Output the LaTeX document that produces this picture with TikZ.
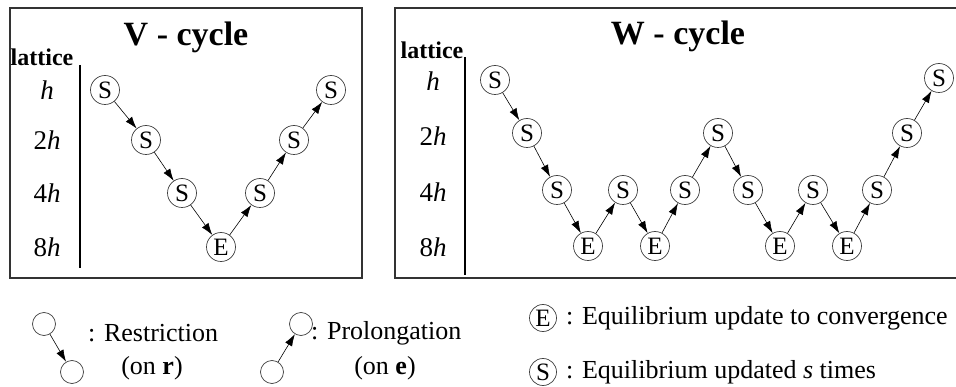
\documentclass[tikz,border=0pt]{standalone}
\usepackage{fontspec}
\setmainfont{Liberation Serif}
\usetikzlibrary{arrows.meta}
\begin{document}
\begin{tikzpicture}[x=1pt,y=-1pt,
  st/.style={circle,draw=black!75,line width=0.7pt,minimum size=29pt,inner sep=0pt,font=\fontsize{25}{25}\selectfont},
  lgc/.style={circle,draw=black!75,line width=0.7pt,minimum size=27pt,inner sep=0pt,font=\fontsize{25}{25}\selectfont},
  emc/.style={circle,draw=black!75,line width=0.7pt,minimum size=23pt,inner sep=0pt},
  ar/.style={-{Latex[length=12pt,width=8pt]},line width=0.6pt},
  panel/.style={draw=black!80,line width=1.2pt},
  axis/.style={line width=1.8pt},
  lvl/.style={font=\fontsize{27}{27}\selectfont},
  ttl/.style={font=\fontsize{34}{34}\selectfont\bfseries},
  lat/.style={font=\fontsize{24}{24}\selectfont\bfseries},
  txt/.style={font=\fontsize{26}{26}\selectfont,anchor=west,inner sep=0pt},
  ctxt/.style={font=\fontsize{26}{26}\selectfont,inner sep=0pt}]
\useasboundingbox (0,0) rectangle (956,387);
\clip (0,0) rectangle (956,387);
\fill[white] (0,0) rectangle (956,387);

% ---------- V-cycle panel ----------
\draw[panel] (10,8) rectangle (362,278);
\node[ttl] (vt) at (186,37) {V - cycle};
\node[lat] (vlat) at (42,57) {lattice};
\coordinate (va) at (80,65);
\coordinate (vb) at (80,268);
\draw[axis] (va) -- (vb);
\node[lvl] (vl1) at (47,90) {\itshape h};
\node[lvl] (vl2) at (47,140) {2\itshape h};
\node[lvl] (vl3) at (47,193) {4\itshape h};
\node[lvl] (vl4) at (47,247) {8\itshape h};

\node[st] (v1) at (105,90) {S};
\node[st] (v2) at (146,140) {S};
\node[st] (v3) at (182,193) {S};
\node[st] (v4) at (221,247) {E};
\node[st] (v5) at (260,193) {S};
\node[st] (v6) at (294,140) {S};
\node[st] (v7) at (331,90) {S};
\foreach \a/\b in {v1/v2,v2/v3,v3/v4,v4/v5,v5/v6,v6/v7}
  \draw[ar] (\a) -- (\b);

% ---------- W-cycle panel ----------
\draw[panel] (395,8) rectangle (975,278);
\node[ttl] (wt) at (678,36) {W - cycle};
\node[lat] (wlat) at (432,50) {lattice};
\coordinate (wa) at (465,57);
\coordinate (wb) at (465,275);
\draw[axis] (wa) -- (wb);
\node[lvl] (wl1) at (433,81) {\itshape h};
\node[lvl] (wl2) at (433,136) {2\itshape h};
\node[lvl] (wl3) at (433,192) {4\itshape h};
\node[lvl] (wl4) at (433,247) {8\itshape h};

\node[st] (w1)  at (495,80)  {S};
\node[st] (w2)  at (527,133) {S};
\node[st] (w3)  at (557,190) {S};
\node[st] (w4)  at (588,246) {E};
\node[st] (w5)  at (623,190) {S};
\node[st] (w6)  at (655,246) {E};
\node[st] (w7)  at (685,190) {S};
\node[st] (w8)  at (718,133) {S};
\node[st] (w9)  at (748,190) {S};
\node[st] (w10) at (780,246) {E};
\node[st] (w11) at (813,190) {S};
\node[st] (w12) at (847,246) {E};
\node[st] (w13) at (877,190) {S};
\node[st] (w14) at (907,133) {S};
\node[st] (w15) at (939,78)  {S};
\foreach \a/\b in {w1/w2,w2/w3,w3/w4,w4/w5,w5/w6,w6/w7,w7/w8,w8/w9,w9/w10,w10/w11,w11/w12,w12/w13,w13/w14,w14/w15}
  \draw[ar] (\a) -- (\b);

% ---------- Legend ----------
\node[emc] (r1) at (44,324) {};
\node[emc] (r2) at (72,372) {};
\draw[ar] (r1) -- (r2);
\node[txt] (rt) at (88,333) {: Restriction};
\node[ctxt] (rt2) at (152,368) {(on \textbf{r})};

\node[emc] (p1) at (272,372) {};
\node[emc] (p2) at (301,324) {};
\draw[ar] (p1) -- (p2);
\node[txt] (pt) at (311,333) {: Prolongation};
\node[ctxt] (pt2) at (385,368) {(on \textbf{e})};

\node[lgc] (le) at (543,318) {E};
\node[txt] (let) at (566,318) {: Equilibrium update to convergence};
\node[lgc] (ls) at (543,372) {S};
\node[txt] (lst) at (566,372) {: Equilibrium updated \textit{s} times};
\end{tikzpicture}
\end{document}
